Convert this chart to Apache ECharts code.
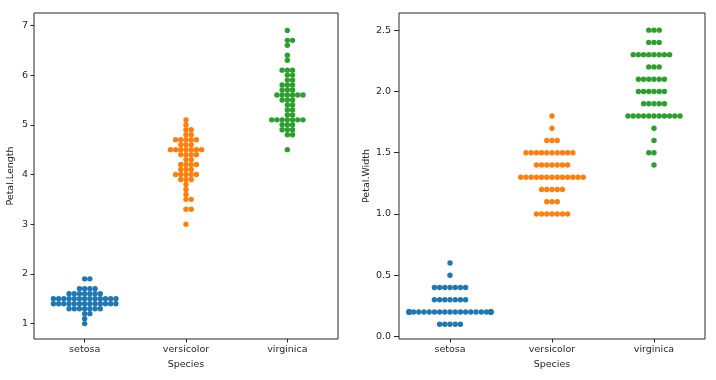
<!DOCTYPE html>
<html><head><meta charset="utf-8">
<script src="https://cdn.jsdelivr.net/npm/echarts@6/dist/echarts.min.js"></script>
<style>html,body{margin:0;padding:0;background:#fff}#c{width:716px;height:380px}</style>
</head><body><div id="c"></div>
<script>
const species = ['setosa', 'versicolor', 'virginica'];
const petalLength_setosa = [1.4,1.4,1.3,1.5,1.4,1.7,1.4,1.5,1.4,1.5,1.5,1.6,1.4,1.1,1.2,1.5,1.3,1.4,1.7,1.5,1.7,1.5,1.0,1.7,1.9,1.6,1.6,1.5,1.4,1.6,1.6,1.5,1.5,1.4,1.5,1.2,1.3,1.4,1.3,1.5,1.3,1.3,1.3,1.6,1.9,1.4,1.6,1.4,1.5,1.4];
const petalLength_versicolor = [4.7,4.5,4.9,4.0,4.6,4.5,4.7,3.3,4.6,3.9,3.5,4.2,4.0,4.7,3.6,4.4,4.5,4.1,4.5,3.9,4.8,4.0,4.9,4.7,4.3,4.4,4.8,5.0,4.5,3.5,3.8,3.7,3.9,5.1,4.5,4.5,4.7,4.4,4.1,4.0,4.4,4.6,4.0,3.3,4.2,4.2,4.2,4.3,3.0,4.1];
const petalLength_virginica = [6.0,5.1,5.9,5.6,5.8,6.6,4.5,6.3,5.8,6.1,5.1,5.3,5.5,5.0,5.1,5.3,5.5,6.7,6.9,5.0,5.7,4.9,6.7,4.9,5.7,6.0,4.8,4.9,5.6,5.8,6.1,6.4,5.6,5.1,5.6,6.1,5.6,5.5,4.8,5.4,5.6,5.1,5.1,5.9,5.7,5.2,5.0,5.2,5.4,5.1];
const petalWidth_setosa = [0.2,0.2,0.2,0.2,0.2,0.4,0.3,0.2,0.2,0.1,0.2,0.2,0.1,0.1,0.2,0.4,0.4,0.3,0.3,0.3,0.2,0.4,0.2,0.5,0.2,0.2,0.4,0.2,0.2,0.2,0.2,0.4,0.1,0.2,0.2,0.2,0.2,0.1,0.2,0.2,0.3,0.3,0.2,0.6,0.4,0.3,0.2,0.2,0.2,0.2];
const petalWidth_versicolor = [1.4,1.5,1.5,1.3,1.5,1.3,1.6,1.0,1.3,1.4,1.0,1.5,1.0,1.4,1.3,1.4,1.5,1.0,1.5,1.1,1.8,1.3,1.5,1.2,1.3,1.4,1.4,1.7,1.5,1.0,1.1,1.0,1.2,1.6,1.5,1.6,1.5,1.3,1.3,1.3,1.2,1.4,1.2,1.0,1.3,1.2,1.3,1.3,1.1,1.3];
const petalWidth_virginica = [2.5,1.9,2.1,1.8,2.2,2.1,1.7,1.8,1.8,2.5,2.0,1.9,2.1,2.0,2.4,2.3,1.8,2.2,2.3,1.5,2.3,2.0,2.0,1.8,2.1,1.8,1.8,1.8,2.1,1.6,1.9,2.0,2.2,1.5,1.4,2.3,2.4,1.8,1.8,2.1,2.4,2.3,1.9,2.3,2.5,2.3,1.9,2.0,2.3,1.8];
const lengthTicks = [1, 2, 3, 4, 5, 6, 7];
const widthTicks = [0.0, 0.5, 1.0, 1.5, 2.0, 2.5];
const catTicks = [0, 1, 2];
const colors = ['#1f77b4', '#ff7f0e', '#2ca02c'];

const FONT = 'DejaVu Sans';
const TXT = '#262626';
const chart = echarts.init(document.getElementById('c'), null, {renderer: 'canvas'});

function xAx(gi, gap) {
  return {
    type: 'value', gridIndex: gi, min: -0.5, max: 2.5,
    name: 'Species', nameLocation: 'middle', nameGap: gap,
    nameTextStyle: {fontFamily: FONT, fontSize: 9.5, color: TXT},
    splitLine: {show: false}, axisLine: {show: false, onZero: false},
    axisTick: {show: true, length: 3.5, customValues: catTicks, lineStyle: {color: TXT}},
    axisLabel: {customValues: catTicks, formatter: v => species[Math.round(v)], fontFamily: FONT, fontSize: 9.5, color: TXT, margin: 6}
  };
}
function yAx(gi, name, min, max, ticks, dec, gap, tlen, margin) {
  return {
    type: 'value', gridIndex: gi, min: min, max: max,
    name: name, nameLocation: 'middle', nameGap: gap,
    nameTextStyle: {fontFamily: FONT, fontSize: 9.5, color: TXT},
    splitLine: {show: false}, axisLine: {show: false, onZero: false},
    axisTick: {show: true, length: tlen, customValues: ticks, lineStyle: {color: TXT}},
    axisLabel: {customValues: ticks, formatter: v => Number(v).toFixed(dec), fontFamily: FONT, fontSize: 9.5, color: TXT, margin: margin}
  };
}

const grids = [
  {left: 34, right: 378, top: 13, bottom: 41, show: true, borderColor: '#262626', borderWidth: 1, backgroundColor: 'transparent'},
  {left: 399, right: 11, top: 13, bottom: 41, show: true, borderColor: '#262626', borderWidth: 1, backgroundColor: 'transparent'}
];
const baseSeries = [];
for (let g = 0; g < 2; g++) for (let c = 0; c < 3; c++) {
  baseSeries.push({type: 'scatter', xAxisIndex: g, yAxisIndex: g, symbolSize: 5.4, itemStyle: {color: colors[c], opacity: 1}, data: [], animation: false, silent: true});
}
chart.setOption({
  animation: false,
  grid: grids,
  xAxis: [xAx(0, 20), xAx(1, 20)],
  yAxis: [yAx(0, 'Petal.Length', 0.69, 7.25, lengthTicks, 0, 18, 3.5, 6),
          yAx(1, 'Petal.Width', -0.02, 2.64, widthTicks, 1, 25, 5, 8)],
  series: baseSeries
});

// beeswarm layout (seaborn-style) in pixel space; leftFirst = tie-break side
function swarm(values, gi, catIdx, leftFirst) {
  const R = 2.48;
  const pts = values.map(v => {
    const p = chart.convertToPixel({gridIndex: gi}, [catIdx, v]);
    return {v: v, x: p[0], y: -p[1]};
  });
  const mid = pts[0].x;
  const order = pts.slice().sort((a, b) => a.y - b.y);
  const placed = [];
  for (const p of order) {
    const nb = [];
    for (let j = placed.length - 1; j >= 0; j--) {
      if (p.y - placed[j].y < 2 * R) nb.push(placed[j]); else break;
    }
    nb.reverse();
    const cands = [{x: p.x}];
    let lf = leftFirst;
    for (const q of nb) {
      const dy = p.y - q.y;
      const dx = Math.sqrt(Math.max(4 * R * R - dy * dy, 0)) * 1.05;
      const cl = {x: q.x - dx}, cr = {x: q.x + dx};
      if (lf) cands.push(cl, cr); else cands.push(cr, cl);
      lf = !lf;
    }
    cands.forEach((c, i) => { c.o = Math.round(Math.abs(c.x - mid) * 1000) / 1000; c.i = i; });
    cands.sort((a, b) => (a.o - b.o) || (a.i - b.i));
    let chosen = cands[cands.length - 1];
    for (const c of cands) {
      let ok = true;
      for (const q of nb) {
        const dx = c.x - q.x, dy = p.y - q.y;
        if (dx * dx + dy * dy < 4 * R * R - 1e-6) { ok = false; break; }
      }
      if (ok) { chosen = c; break; }
    }
    placed.push({x: chosen.x, y: p.y, v: p.v});
  }
  return placed.map(q => {
    const d = chart.convertFromPixel({gridIndex: gi}, [q.x, -q.y]);
    const x = Math.max(catIdx - 0.4, Math.min(catIdx + 0.4, d[0]));
    return [x, q.v];
  });
}

const groups = [
  [petalLength_setosa, petalLength_versicolor, petalLength_virginica],
  [petalWidth_setosa, petalWidth_versicolor, petalWidth_virginica]
];
const tieLeft = [false, true];
const upd = [];
for (let g = 0; g < 2; g++) for (let c = 0; c < 3; c++) {
  upd.push({data: swarm(groups[g][c], g, c, tieLeft[g])});
}
chart.setOption({series: upd});
</script>
</body></html>
